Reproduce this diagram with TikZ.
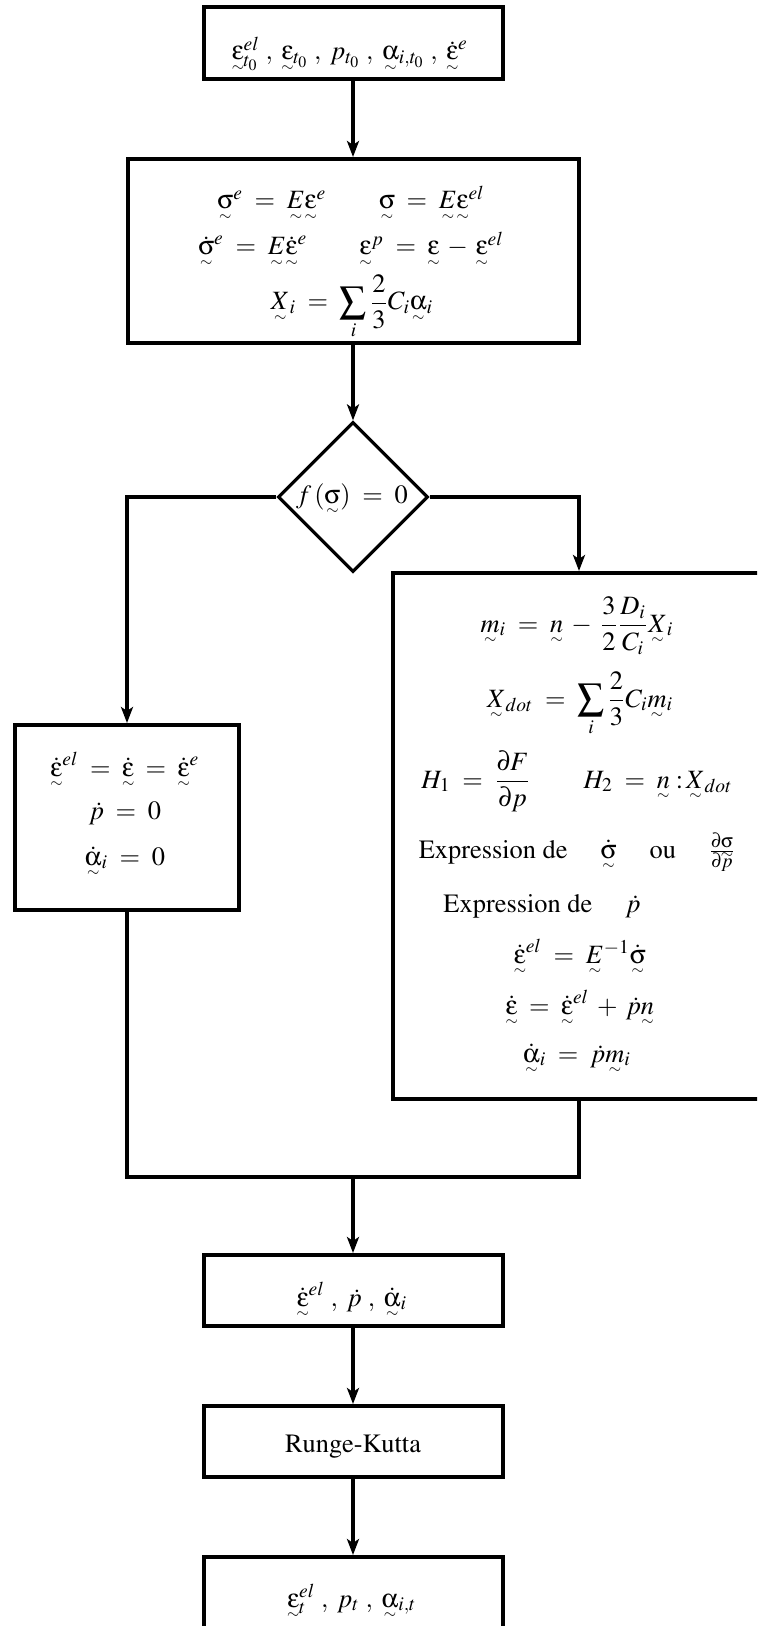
\documentclass[tikz,border=0pt]{standalone}
\usepackage[T1]{fontenc}
\usepackage{amsmath}
\usepackage{mathptmx}
\usetikzlibrary{arrows.meta,shapes.geometric}
\DeclareSymbolFont{upsym}{U}{psy}{m}{n}
\DeclareMathSymbol{\usig}{\mathord}{upsym}{`s}
\DeclareMathSymbol{\ueps}{\mathord}{upsym}{`e}
\DeclareMathSymbol{\ualp}{\mathord}{upsym}{`a}
\DeclareMathSymbol{\upar}{\mathord}{upsym}{"B6}
\makeatletter
\newcommand{\tsr}[1]{{\mathpalette\tsr@{#1}}}
\newcommand{\tsr@}[2]{\ooalign{$\m@th#1#2$\cr\hidewidth\smash{\raisebox{-5.6pt}{$\m@th\scriptscriptstyle\sim$}}\hidewidth\cr}}
\makeatother
\newcommand{\Eq}{\mathrel{\mskip4mu=\mskip4mu}}
\newcommand{\Bin}[1]{\mathbin{\mskip3mu#1\mskip3mu}}
\tikzset{
  every node/.style={font=\fontsize{13.2}{16}\selectfont},
  box/.style={draw, line width=2pt, inner sep=0pt, rectangle},
  smallbox/.style={box, minimum width=149.5pt, minimum height=35.5pt},
  txt/.style={inner sep=0pt, anchor=base},
  conn/.style={line width=1.6pt},
  arr/.style={conn, -{Stealth[length=8pt,width=6pt,inset=2pt]}},
}
\begin{document}
\begin{tikzpicture}[x=0.5pt,y=-0.5pt]
\useasboundingbox (0,0) rectangle (757,1626);
\clip (0,0) rectangle (757,1626);
% boxes
\node[smallbox, minimum height=36pt] (b1) at (353,43) {};
\node[box, minimum width=225.5pt, minimum height=92pt] (b2) at (353,251) {};
\node[draw, diamond, line width=1.6pt, inner sep=0pt, minimum width=75pt, minimum height=75pt] (dia) at (353,497) {};
\node[box, minimum width=112pt, minimum height=92.5pt] (b3) at (127,817.5) {};
\node[box, minimum width=186pt, minimum height=263pt] (b4) at (579,836) {};
\node[smallbox] (b5) at (353,1290.5) {};
\node[smallbox] (b6) at (353,1441.5) {};
\node[smallbox] (b7) at (353,1592.5) {};
% texts
\node[txt] (t1) at (350,60) {$\tsr\ueps^{el}_{t_0}\;,\;\tsr\ueps_{t_0}\;,\;p_{t_0}\;,\;\tsr\ualp_{i,t_0}\;,\;\tsr{\dot\ueps}^e$};
\node[txt] (t2a) at (351,209) {$\tsr\usig^e \Eq \tsr E\tsr\ueps^e \qquad \tsr\usig \Eq \tsr E\tsr\ueps^{el}$};
\node[txt] (t2b) at (351,255) {$\tsr{\dot\usig}^e \Eq \tsr E\tsr{\dot\ueps}^e \qquad \tsr\ueps^p \Eq \tsr\ueps \Bin- \tsr\ueps^{el}$};
\node[txt] (t2c) at (352,310) {$\displaystyle \tsr X_i \Eq \sum_i \frac23 C_i\tsr\ualp_i$};
\node[inner sep=0pt] (td) at (352,497) {$f\,(\tsr\usig) \Eq 0$};
\node[txt] (t3a) at (125,776) {$\tsr{\dot\ueps}^{el} \Eq \tsr{\dot\ueps} \Eq \tsr{\dot\ueps}^e$};
\node[txt] (t3b) at (125,819) {$\dot p \Eq 0$};
\node[txt] (t3c) at (125,865) {$\tsr{\dot\ualp}_i \Eq 0$};
\node[txt] (t4a) at (577,632) {$\displaystyle \tsr m_i \Eq \tsr n \Bin- \frac32\frac{D_i}{C_i}\tsr X_i$};
\node[txt] (t4b) at (580,707) {$\displaystyle \tsr X_{dot} \Eq \sum_i\frac23 C_i\tsr m_i$};
\node[txt] (t4c) at (577,788) {$\displaystyle H_1 \Eq \frac{\upar F}{\upar p} \qquad H_2 \Eq \tsr n\;{:}\,\tsr X_{dot}$};
\node[txt] (t4d) at (577,858) {Expression de \quad $\tsr{\dot\usig}$ \quad ou \quad $\frac{\upar\tsr\usig}{\upar p}$};
\node[txt] (t4e) at (542,912) {Expression de \quad $\dot p$};
\node[txt] (t4f) at (580,963) {$\tsr{\dot\ueps}^{el} \Eq \tsr E^{-1}\tsr{\dot\usig}$};
\node[txt] (t4g) at (580,1014) {$\tsr{\dot\ueps} \Eq \tsr{\dot\ueps}^{el} \Bin+ \dot p\tsr n$};
\node[txt] (t4h) at (577,1062) {$\tsr{\dot\ualp}_i \Eq \dot p\tsr m_i$};
\node[txt] (t5) at (352,1306) {$\tsr{\dot\ueps}^{el}\;,\;\dot p\;,\;\tsr{\dot\ualp}_i$};
\node[txt] (t6) at (353,1452) {Runge-Kutta};
\node[txt] (t7) at (352,1607) {$\tsr\ueps^{el}_t\;,\;p_t\;,\;\tsr\ualp_{i,t}$};
% connectors
\coordinate (J) at (353,1177);
\draw[arr] (b1.south) -- (b2.north);
\draw[arr] (b2.south) -- (dia.north);
\draw[arr] (dia.west) -| (b3.north);
\draw[arr] (dia.east) -| (b4.north);
\draw[conn] (b3.south) |- (J) -| (b4.south);
\draw[arr] (J) -- (b5.north);
\draw[arr] (b5.south) -- (b6.north);
\draw[arr] (b6.south) -- (b7.north);
\end{tikzpicture}
\end{document}
